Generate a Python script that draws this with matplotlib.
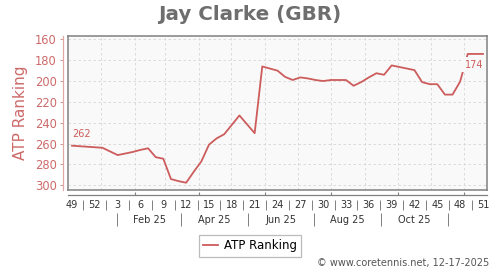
import numpy as np
import pandas as pd
import matplotlib
matplotlib.use("Agg")
import matplotlib.pyplot as plt

# ---- data ----
rank = [262, 262.5, 263, 263.5, 264, 267.5, 271, 269.5, 268, 266,
        264.5, 273, 274.5, 294, 296, 297.5, 287, 277, 261, 255,
        251, 242, 233, 241.5, 250, 186, 188, 190, 196, 199,
        196.5, 197.5, 199, 200, 199, 199, 199, 204.5, 201, 196.5,
        192.5, 194, 185, 186.5, 188, 189.5, 201, 203, 203, 213,
        213, 200.5, 174, 174, 174]
week_labels = ['49', '52', '3', '6', '9', '12', '15', '18', '21', '24',
               '27', '30', '33', '36', '39', '42', '45', '48', '51']
month_labels = ['Feb 25', 'Apr 25', 'Jun 25', 'Aug 25', 'Oct 25']
y_ticks = [160, 180, 200, 220, 240, 260, 280, 300]
first_label = '262'
last_label = '174'

start = pd.Timestamp('2024-12-05 12:00')
def pos(d):
    return (pd.Timestamp(d) - start) / pd.Timedelta(days=7)

month_starts = pd.date_range('2025-01-01', '2025-12-01', freq='MS')
grid_x = [pos(d) for d in month_starts]
tick_x = [pos(d) for d in month_starts[1::2]]
sep_month_x = [pos(d) for d in ['2025-01-16', '2025-03-16', '2025-05-16',
                                '2025-07-16', '2025-09-16', '2025-11-16']]
month_lab_x = [(a + b) / 2 for a, b in zip(sep_month_x[:-1], sep_month_x[1:])]

x = np.arange(len(rank))
week_x = x[::3]
week_sep_x = week_x[:-1] + 1.5

LINE = '#cd5c5c'
PINK = '#cd6a6a'
GRAY = '#808080'

W, H = 500, 270
fig = plt.figure(figsize=(5, 2.7), dpi=100)
fig.patch.set_facecolor('white')

L, R, T, B = 68, 487, 35.7, 190
xlim = (-0.526, 54.53)
ylim = (304.5, 156.5)

def fx(px): return px / W
def fy(py): return 1 - py / H

ax = fig.add_axes([fx(L), fy(B), fx(R) - fx(L), fy(T) - fy(B)])
ax.set_facecolor('#f9f9f9')
ax.set_xlim(*xlim)
ax.set_ylim(*ylim)
for s in ax.spines.values():
    s.set_color(GRAY)
    s.set_linewidth(1.1)
ax.set_xticks(grid_x)
ax.set_yticks(y_ticks)
ax.tick_params(length=0, labelbottom=False, labelleft=False)
ax.grid(True, color='#d6d6d6', linestyle=(0, (3, 3)), linewidth=0.6)

ax.plot(x, rank, color=LINE, lw=1.3, label='ATP Ranking', zorder=3)
ax.annotate(first_label, (x[0], rank[0]), xytext=(0, 5), textcoords='offset points',
            ha='left', va='bottom', fontsize=7, color=LINE, zorder=4)
ax.annotate(last_label, (x[-1], rank[-1]), xytext=(0, -4), textcoords='offset points',
            ha='right', va='top', fontsize=7, color=LINE, zorder=4,
            bbox=dict(boxstyle='square,pad=0.3', fc='#f9f9f9', ec='none'))

def strip(ypx):
    a = fig.add_axes([fx(L), fy(ypx), fx(R) - fx(L), 0.0001])
    a.set_xlim(*xlim)
    a.patch.set_visible(False)
    for s in a.spines.values():
        s.set_visible(False)
    a.set_yticks([])
    return a

# axis line at 195 px
a1 = strip(195)
a1.spines['bottom'].set_visible(True)
a1.spines['bottom'].set_color(GRAY)
a1.spines['bottom'].set_linewidth(0.9)
a1.set_xticks(tick_x)
a1.tick_params(axis='x', direction='in', length=2.5, color=GRAY, labelbottom=False)

# week labels
a2 = strip(200)
a2.set_xticks(week_x, week_labels)
a2.set_xticks(week_sep_x, minor=True)
a2.tick_params(axis='x', which='major', length=0, pad=0.3, labelsize=7, labelcolor='#333333')
a2.tick_params(axis='x', which='minor', direction='out', length=7.2, width=0.7, color=GRAY)

# month labels
a3 = strip(213)
a3.set_xticks(month_lab_x, month_labels)
a3.set_xticks(sep_month_x, minor=True)
a3.tick_params(axis='x', which='major', length=0, pad=1.5, labelsize=7, labelcolor='#333333')
a3.tick_params(axis='x', which='minor', direction='out', length=9.4, width=0.7, color=GRAY)

# y axis
ay = fig.add_axes([fx(63), fy(B), 0.0001, fy(T) - fy(B)])
ay.set_ylim(*ylim)
ay.patch.set_visible(False)
for k, s in ay.spines.items():
    s.set_visible(k == 'left')
ay.spines['left'].set_color('#e2a8a8')
ay.spines['left'].set_linewidth(0.9)
ay.set_xticks([])
ay.set_yticks(y_ticks)
ay.tick_params(axis='y', direction='out', length=2.5, width=0.7, color='#d89090',
               pad=2, labelsize=8.3, labelcolor=PINK)

fig.text(0.5, fy(14), 'Jay Clarke (GBR)', ha='center', va='center',
         fontsize=14.3, fontweight='bold', color='#6e6e6e')
fig.text(fx(21), fy(113), 'ATP Ranking', rotation=90, ha='center', va='center',
         fontsize=11, color=PINK)

leg = fig.legend(handles=ax.get_lines(), loc='center', bbox_to_anchor=(fx(250), fy(246)),
                 fontsize=8.5, frameon=True, fancybox=False, handlelength=1.3,
                 handletextpad=0.5, borderpad=0.35, edgecolor='#aaaaaa')
leg.get_frame().set_linewidth(0.9)

fig.text(fx(489), fy(263), '\u00a9 www.coretennis.net, 12-17-2025', ha='right', va='center',
         fontsize=7, color='#555555')

fig.savefig('out.png', dpi=100, facecolor='white')
